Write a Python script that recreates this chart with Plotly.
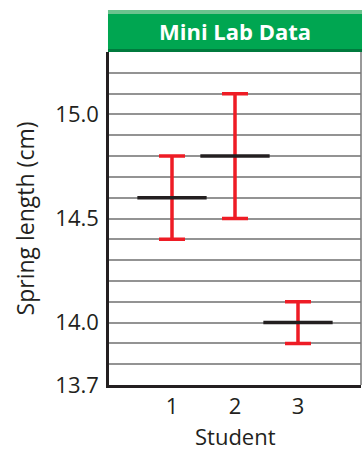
import plotly.graph_objects as go

students = [1, 2, 3]
means = [14.6, 14.8, 14.0]
lows = [14.4, 14.5, 13.9]
highs = [14.8, 15.1, 14.1]
ytick_vals = [13.7, 14.0, 14.5, 15.0]
ytick_text = ["13.7", "14.0", "14.5", "15.0"]

half = 0.55
mx, my = [], []
for s, m in zip(students, means):
    mx += [s - half, s + half, None]
    my += [m, m, None]

fig = go.Figure()
fig.add_trace(go.Scatter(
    x=students, y=means, mode="markers",
    marker=dict(size=1, color="rgba(0,0,0,0)"),
    error_y=dict(type="data", symmetric=False,
                 array=[h - m for h, m in zip(highs, means)],
                 arrayminus=[m - l for m, l in zip(means, lows)],
                 color="#ee1c25", thickness=3.5, width=13),
    showlegend=False, hoverinfo="skip"))
fig.add_trace(go.Scatter(
    x=mx, y=my, mode="lines", line=dict(color="#231f20", width=3.5),
    showlegend=False, hoverinfo="skip"))

font = "Open Sans, Noto Sans, sans-serif"
fig.update_layout(
    width=363, height=453,
    margin=dict(l=109, r=2, t=52, b=68),
    paper_bgcolor="white", plot_bgcolor="white",
    font=dict(family=font, size=22, color="#231f20"),
    xaxis=dict(range=[0, 4], tickvals=students, ticktext=[str(s) for s in students],
               showgrid=False, zeroline=False, showline=True, linecolor="#231f20",
               linewidth=2.5, ticks="", ticklen=0, automargin=False),
    yaxis=dict(range=[13.7, 15.3], tickvals=ytick_vals, ticktext=ytick_text,
               showgrid=True, gridcolor="#939393", gridwidth=1.5,
               minor=dict(tick0=13.7, dtick=0.1, showgrid=True,
                          gridcolor="#939393", gridwidth=1.5),
               zeroline=False, showline=True, linecolor="#231f20", linewidth=2.5,
               ticks="", ticklabelstandoff=3, automargin=False,
               title=dict(text="Spring length (cm)", font=dict(size=23), standoff=15)),
)
fig.add_annotation(xref="paper", yref="paper", x=0.5, y=-(452 - 385) / 333, text="Student",
                   showarrow=False, font=dict(size=22, family=font, color="#231f20"),
                   xanchor="center", yanchor="bottom", borderpad=0)
hh = 42 / 333
fig.add_shape(type="line", xref="paper", yref="paper", x0=1, x1=1, y0=0, y1=1,
              line=dict(color="#777777", width=1.5))
fig.add_shape(type="rect", xref="paper", yref="paper", x0=-0.004, x1=1.004, y0=1, y1=1 + hh,
              fillcolor="#00a651", line=dict(width=0), layer="above")
fig.add_shape(type="rect", xref="paper", yref="paper", x0=-0.004, x1=1.004, y0=1 + hh - 4/333, y1=1 + hh,
              fillcolor="#6cc38e", line=dict(width=0), layer="above")
fig.add_shape(type="rect", xref="paper", yref="paper", x0=-0.004, x1=1.004, y0=1, y1=1 + 3/333,
              fillcolor="#007a3d", line=dict(width=0), layer="above")
fig.add_annotation(xref="paper", yref="paper", x=0.5, y=1 + hh / 2, text="<b>Mini Lab Data</b>",
                   showarrow=False, font=dict(color="white", size=22, family=font),
                   xanchor="center", yanchor="middle")

fig.write_html("out.html")
